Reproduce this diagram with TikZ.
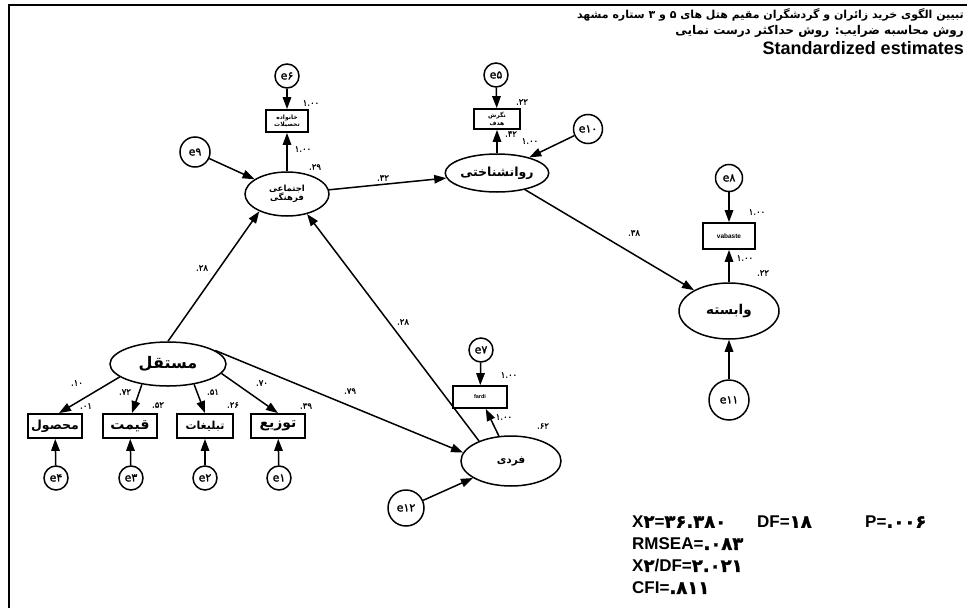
\documentclass[tikz,border=0pt]{standalone}
\usepackage{fontspec}
\setmainfont{Liberation Sans}
\newfontfamily\fa[Script=Arabic]{DejaVu Sans}
\newfontfamily\fd[FakeBold=1.6]{DejaVu Sans}
\TeXXeTstate=1
\usetikzlibrary{arrows.meta,shapes.geometric}
\tikzset{
  lat/.style={ellipse, draw, line width=1.5pt, inner sep=0pt, align=center},
  err/.style={circle, draw, line width=1.5pt, inner sep=0pt, font=\fd\fontsize{11}{11}\selectfont},
  obs/.style={rectangle, draw, line width=1.8pt, inner sep=0pt, align=center},
  arr/.style={line width=1.5pt, -{Triangle[length=12pt,width=8.5pt]}},
  lab/.style={font=\fd\fontsize{8.5}{8.5}\selectfont, inner sep=0pt},
  fit/.style={anchor=west, inner sep=0pt, font=\bfseries\fontsize{17}{17}\selectfont}
}
\newcommand{\pdig}[1]{{\fd\fontsize{18}{17}\selectfont #1}}
\newcommand{\fas}[1]{\fa\bfseries\fontsize{#1}{#1}\selectfont}
\begin{document}
\begin{tikzpicture}[x=1pt,y=-1pt]
\useasboundingbox (0,0) rectangle (967,608);
% frame
\draw[line width=2.6pt] (9,612) -- (9,5) -- (970,5);
% titles
\node[anchor=east, inner sep=0pt, font=\fas{11}] (t1) at (964,15) {\beginR تبیین الگوی خرید زائران و گردشگران مقیم هتل های ۵ و ۳ ستاره مشهد\endR};
\node[anchor=east, inner sep=0pt, font=\fas{12}] (t2) at (964,31) {\beginR روش محاسبه ضرایب: روش حداکثر درست نمایی\endR};
\node[anchor=east, inner sep=0pt, font=\bfseries\fontsize{18}{18}\selectfont] (t3) at (964,48) {Standardized estimates};

% latent variables
\node[lat, minimum width=84pt, minimum height=44pt, font=\fa\bfseries\fontsize{8.5}{9.5}\selectfont] (s) at (287,194) {\beginR اجتماعی\endR\\\beginR فرهنگی\endR};
\node[lat, minimum width=98pt, minimum height=38pt, font=\fas{12.5}] (r) at (497,173) {\beginR روانشناختی\endR};
\node[lat, minimum width=100pt, minimum height=56pt, font=\fas{13.5}] (v) at (729,311) {\beginR وابسته\endR};
\node[lat, minimum width=116pt, minimum height=44pt, font=\fas{16}] (m) at (168,364) {\beginR مستقل\endR};
\node[lat, minimum width=100pt, minimum height=50pt, font=\fas{10.5}] (f) at (511,461) {\beginR فردی\endR};

% observed
\node[obs, minimum width=42pt, minimum height=22pt, font=\fa\bfseries\fontsize{6}{7.5}\selectfont] (b6) at (287,121) {\beginR خانواده\endR\\\beginR تحصیلات\endR};
\node[obs, minimum width=46pt, minimum height=20pt, font=\fa\bfseries\fontsize{6}{7.5}\selectfont] (b5) at (497,119) {\beginR نگرش\endR\\\beginR هدف\endR};
\node[obs, minimum width=52pt, minimum height=26pt, font=\bfseries\fontsize{6.5}{6.5}\selectfont] (b8) at (729,236) {vabaste};
\node[obs, minimum width=54pt, minimum height=22pt, font=\bfseries\fontsize{5.5}{5.5}\selectfont] (b7) at (480,397) {fardi};
\node[obs, minimum width=54pt, minimum height=24pt, font=\fas{12.5}] (b4) at (55,426) {\beginR محصول\endR};
\node[obs, minimum width=54pt, minimum height=24pt, font=\fas{14}] (b3) at (130,426) {\beginR قیمت\endR};
\node[obs, minimum width=56pt, minimum height=24pt, font=\fas{11}] (b2) at (205,426) {\beginR تبلیغات\endR};
\node[obs, minimum width=54pt, minimum height=24pt, font=\fas{14}] (b1) at (278,426) {\beginR توزیع\endR};

% errors
\node[err, minimum size=24pt] (e6) at (287,76) {e۶};
\node[err, minimum size=24pt] (e5) at (496,75) {e۵};
\node[err, minimum size=29pt] (e10) at (588,129) {e۱۰};
\node[err, minimum size=30pt] (e9) at (195,152) {e۹};
\node[err, minimum size=27pt] (e8) at (729,178) {e۸};
\node[err, minimum size=24pt] (e7) at (481,350) {e۷};
\node[err, minimum size=40pt] (e11) at (729,400) {e۱۱};
\node[err, minimum size=36pt] (e12) at (406,508) {e۱۲};
\node[err, minimum size=24pt] (e4) at (56,478) {e۴};
\node[err, minimum size=24pt] (e3) at (131,478) {e۳};
\node[err, minimum size=24pt] (e2) at (205,478) {e۲};
\node[err, minimum size=24pt] (e1) at (279,478) {e۱};

% arrows
\draw[arr] (e6) -- (b6);
\draw[arr] (s) -- (b6);
\draw[arr] (e9) -- (s);
\draw[arr] (s) -- (r);
\draw[arr] (e5) -- (b5);
\draw[arr] (r) -- (b5);
\draw[arr] (e10) -- (r);
\draw[arr] (r) -- (v);
\draw[arr] (e8) -- (b8);
\draw[arr] (v) -- (b8);
\draw[arr] (e11) -- (v);
\draw[arr] (m.north) -- (s.212);
\draw[arr] (f.148) -- (s.315);
\draw[arr] (m.16) -- (f.170);
\draw[arr] (m.195) -- ([xshift=4pt]b4.north);
\draw[arr] (m.218) -- ([xshift=2pt]b3.north);
\draw[arr] (m.322) -- (b2.north);
\draw[arr] (m.350) -- (b1.north);
\draw[arr] (e4) -- (b4);
\draw[arr] (e3) -- (b3);
\draw[arr] (e2) -- (b2);
\draw[arr] (e1) -- (b1);
\draw[arr] (e7) -- (b7);
\draw[arr] (f) -- (b7);
\draw[arr] (e12) -- (f);

% labels
\node[lab] (l1) at (311,103) {۱.۰۰};
\node[lab] (l2) at (303,149) {۱.۰۰};
\node[lab] (l3) at (315,167) {.۲۹};
\node[lab] (l4) at (383,178) {.۳۲};
\node[lab] (l5) at (522,102) {.۲۲};
\node[lab] (l6) at (511,134) {.۴۲};
\node[lab] (l7) at (530,141) {۱.۰۰};
\node[lab] (l8) at (634,233) {.۳۸};
\node[lab] (l9) at (757,212) {۱.۰۰};
\node[lab] (l10) at (745,258) {۱.۰۰};
\node[lab] (l11) at (763,273) {.۲۲};
\node[lab] (l12) at (202,268) {.۲۸};
\node[lab] (l13) at (403,322) {.۲۸};
\node[lab] (l14) at (350,391) {.۷۹};
\node[lab] (l15) at (77,383) {.۱۰};
\node[lab] (l16) at (86,406) {.۰۱};
\node[lab] (l17) at (125,392) {.۷۲};
\node[lab] (l18) at (158,405) {.۵۲};
\node[lab] (l19) at (213,392) {.۵۱};
\node[lab] (l20) at (233,405) {.۲۶};
\node[lab] (l21) at (262,383) {.۷۰};
\node[lab] (l22) at (306,406) {.۳۹};
\node[lab] (l23) at (509,375) {۱.۰۰};
\node[lab] (l24) at (504,417) {۱.۰۰};
\node[lab] (l25) at (543,426) {.۶۲};

% fit statistics
\node[fit] (f1) at (632,522) {X\pdig{۲}=\pdig{۳۶.۳۸۰}};
\node[fit] (f2) at (757,522) {DF=\pdig{۱۸}};
\node[fit] (f3) at (865,522) {P=\pdig{.۰۰۶}};
\node[fit] (f4) at (632,544) {RMSEA=\pdig{.۰۸۳}};
\node[fit] (f5) at (632,566) {X\pdig{۲}/DF=\pdig{۲.۰۲۱}};
\node[fit] (f6) at (632,588) {CFI=\pdig{.۸۱۱}};
\end{tikzpicture}
\end{document}
